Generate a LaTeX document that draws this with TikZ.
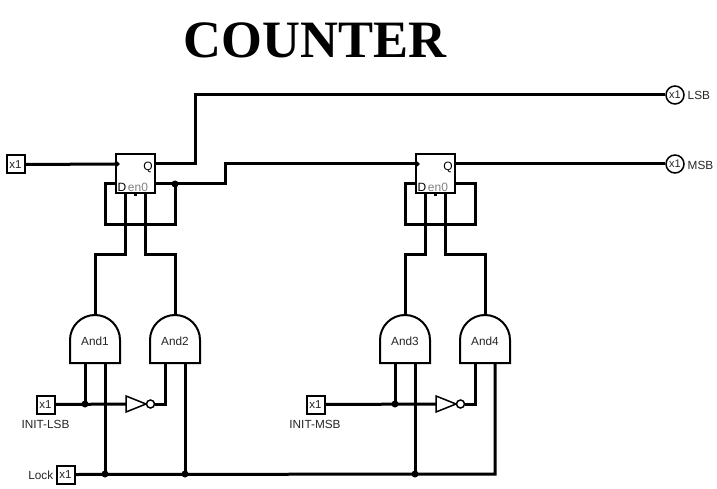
\documentclass[tikz,border=0pt]{standalone}
\usepackage{fontspec}
\setmainfont{Liberation Sans}
\newfontfamily\titlefont{Liberation Serif}
\tikzset{
  wire/.style={line width=3pt,line join=miter},
  outline/.style={line width=2pt,draw=black,fill=white},
  thinline/.style={line width=1.5pt,draw=black,fill=white},
  iobox/.style={outline,minimum size=18pt,inner sep=0pt,font=\fontsize{11.5}{11.5}\selectfont,text=black!85},
  outcircle/.style={circle,thinline,minimum size=18pt,inner sep=0pt,font=\fontsize{11}{11}\selectfont,text=black!85},
  ffbox/.style={outline,minimum size=39pt,inner sep=0pt},
  lbl/.style={font=\fontsize{11.8}{12}\selectfont,inner sep=0pt,text=black!85},
  junction/.style={circle,fill=black,minimum size=7pt,inner sep=0pt},
  bubble/.style={circle,thinline,minimum size=8pt,inner sep=0pt},
  pinlabel/.style={font=\fontsize{12}{12}\selectfont,inner sep=0pt},
}
\newcommand{\andgate}[3]{% name, centre x, label
  \coordinate (#1a) at (#2-10,-363);
  \coordinate (#1b) at (#2+10,-363);
  \coordinate (#1o) at (#2,-315);
  \draw[outline] (#2-25,-363) -- (#2-25,-340) arc[start angle=180,end angle=0,x radius=25pt,y radius=25pt] -- (#2+25,-363) -- cycle;
  \node[lbl] (#1) at (#2,-341) {#3};
}
\newcommand{\flipflop}[2]{% name, left x
  \node[ffbox] (#1) at (#2+20,-174) {};
  \coordinate (#1clk) at (#2,-164);
  \coordinate (#1q) at (#2+40,-164);
  \coordinate (#1d) at (#2,-184);
  \coordinate (#1qn) at (#2+40,-184);
  \coordinate (#1e) at (#2+10,-194);
  \coordinate (#1r) at (#2+30,-194);
  \fill (#2+18.5,-194) rectangle (#2+21.5,-196);
  \node[pinlabel] at (#2+33,-167) {Q};
  \node[pinlabel] at (#2+7,-187.5) {D};
  \node[pinlabel,text=black!50] at (#2+23,-187.5) {en0};
}
\newcommand{\inverter}[2]{% name, left x
  \draw[thinline] (#2,-396) -- (#2+20,-404) -- (#2,-412) -- cycle;
  \coordinate (#1in) at (#2,-404);
  \node[bubble] (#1b) at (#2+24.5,-404) {};
  \coordinate (#1out) at (#2+28.5,-404);
}
\begin{document}
\begin{tikzpicture}[x=1pt,y=1pt]
\useasboundingbox (0,-489) rectangle (717,0);
\fill[white] (0,-489) rectangle (717,0);
\node[font=\titlefont\bfseries\fontsize{52.5}{52.5}\selectfont,inner sep=0pt] (title) at (315,-40) {COUNTER};

% named terminals
\coordinate (j1) at (175,-184);
\coordinate (j2) at (85,-404);
\coordinate (j3) at (105,-474);
\coordinate (j4) at (185,-474);
\coordinate (j5) at (395,-404);
\coordinate (j6) at (415,-474);

% wires first, shapes on top
\coordinate (ffAd) at (115,-184);
\coordinate (ffAe) at (125,-194);
\coordinate (ffAr) at (145,-194);
\coordinate (ffBd) at (415,-184);
\coordinate (ffBe) at (425,-194);
\coordinate (ffBr) at (445,-194);
\coordinate (andAo) at (95,-315);
\coordinate (andBo) at (175,-315);
\coordinate (andCo) at (405,-315);
\coordinate (andDo) at (485,-315);

\draw[wire] (j1) -- (175,-224) -- (105,-224) -- (105,-184) -- (ffAd);
\draw[wire] (ffAe) -- (125,-254) -- (95,-254) -- (andAo);
\draw[wire] (ffAr) -- (145,-254) -- (175,-254) -- (andBo);
\draw[wire] (455,-184) -- (475,-184) -- (475,-224) -- (405,-224) -- (405,-184) -- (ffBd);
\draw[wire] (ffBe) -- (425,-254) -- (405,-254) -- (andCo);
\draw[wire] (ffBr) -- (445,-254) -- (485,-254) -- (andDo);

\flipflop{ffA}{115}
\flipflop{ffB}{415}

\andgate{andA}{95}{And1}
\andgate{andB}{175}{And2}
\andgate{andC}{405}{And3}
\andgate{andD}{485}{And4}

\inverter{invA}{126}
\inverter{invB}{436}

\node[iobox] (clk) at (15.5,-164.5) {x1};
\node[iobox] (initl) at (45.5,-404.5) {x1};
\node[iobox] (initm) at (315.5,-404.5) {x1};
\node[iobox] (lock) at (65.5,-474.5) {x1};
\node[outcircle] (lsb) at (675,-95) {x1};
\node[outcircle] (msb) at (675,-164) {x1};

\node[lbl,anchor=west] (lsbt) at (687.5,-95.5) {LSB};
\node[lbl,anchor=west] (msbt) at (687.5,-165.5) {MSB};
\node[lbl] (initlt) at (45.5,-424.5) {INIT-LSB};
\node[lbl] (initmt) at (315,-424.5) {INIT-MSB};
\node[lbl,anchor=east] (lockt) at (53.5,-475.5) {Lock};

\draw[wire] (clk.east) -- (ffAclk);
\draw[wire] (ffAq) -- (195,-164) -- (195,-95) -- (lsb.west);
\draw[wire] (ffAqn) -- (225,-184) -- (225,-164) -- (ffBclk);
\draw[wire] (ffBq) -- (msb.west);
\draw[wire] (initl.east) -- (invAin);
\draw[wire] (invAout) -- (165,-404) -- (andBa);
\draw[wire] (j2) -- (andAa);
\draw[wire] (initm.east) -- (invBin);
\draw[wire] (invBout) -- (475,-404) -- (andDa);
\draw[wire] (j5) -- (andCa);
\draw[wire] (lock.east) -- (495,-474) -- (andDb);
\draw[wire] (j3) -- (andAb);
\draw[wire] (j4) -- (andBb);
\draw[wire] (j6) -- (andCb);

\foreach \j in {j1,j2,j3,j4,j5,j6} \node[junction] at (\j) {};
\fill (ffAclk) ++(0.5,4) -- ++(4.5,-4) -- ++(-4.5,-4) -- cycle;
\fill (ffBclk) ++(0.5,4) -- ++(4.5,-4) -- ++(-4.5,-4) -- cycle;
\end{tikzpicture}
\end{document}
